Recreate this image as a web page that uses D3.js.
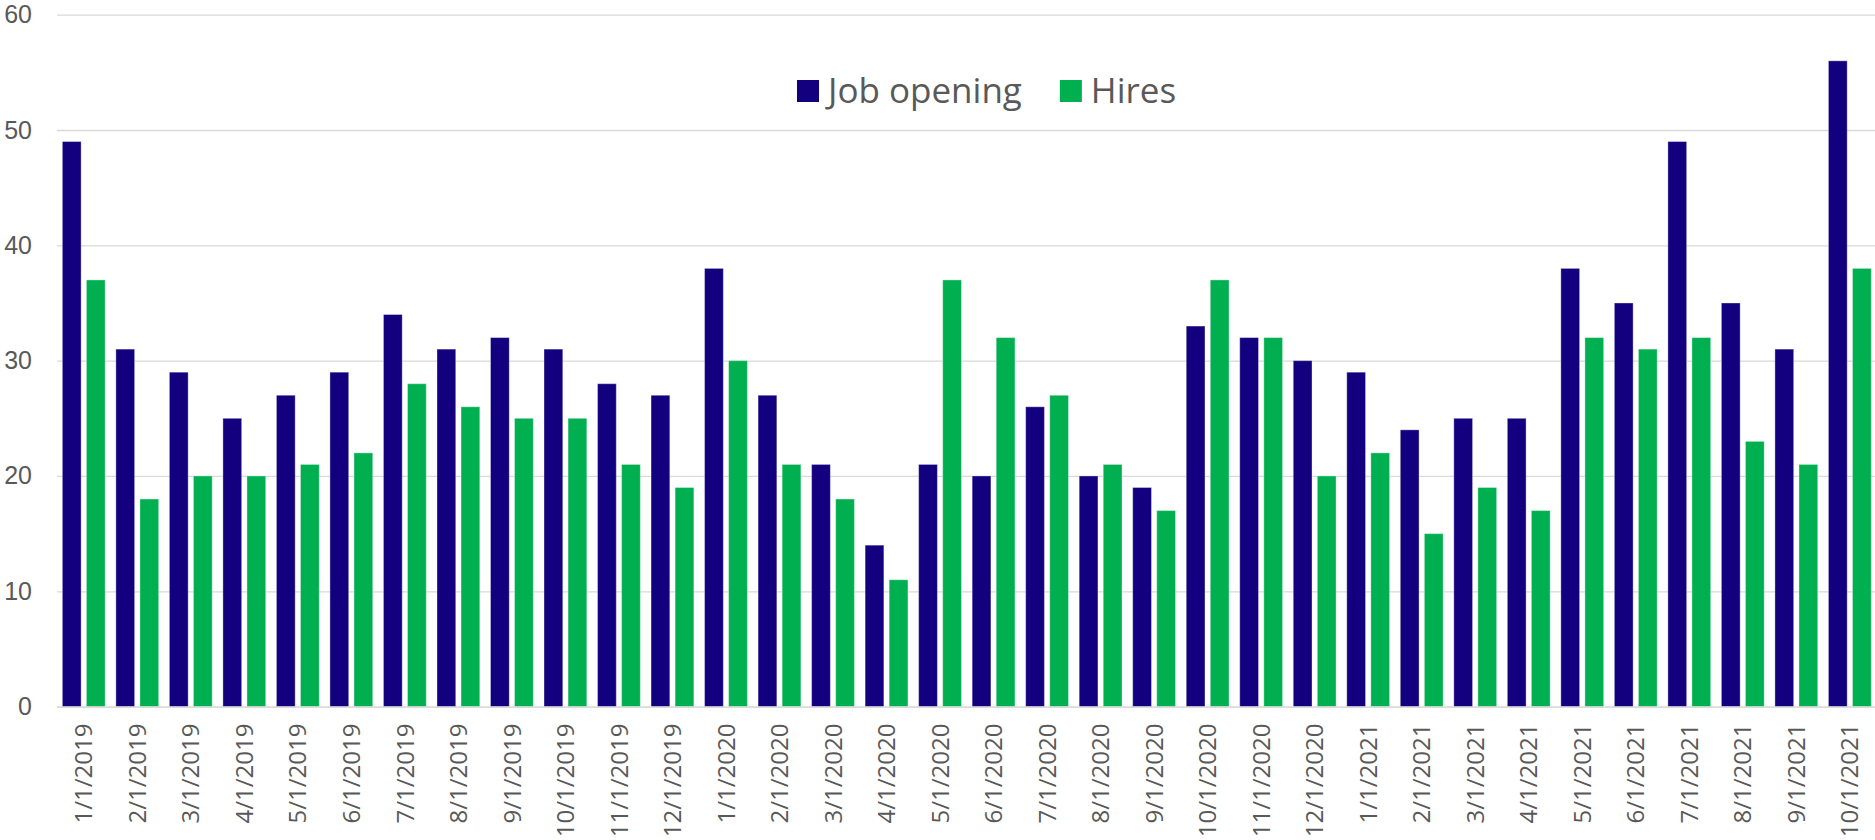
<!DOCTYPE html>
<html>
<head>
    <meta charset="utf-8">
    <script src="https://d3js.org/d3.v7.min.js"></script>
    <style type="text/css">
        body { margin: 0; background: #fff; }
        .tick text { fill: #595959; font-family: "Open Sans", sans-serif; font-size: 24px; }
        .yaxis .tick text { font-family: "Liberation Sans", sans-serif; font-size: 25px; }
        .grid line { stroke: #d9d9d9; stroke-width: 1.3; }
        .legend text { fill: #595959; font-family: "Open Sans", sans-serif; font-size: 35px; }
    </style>
</head>
<body>
    <div id="chart"></div>
    <script>
        // data
        const months = ["1/1/2019", "2/1/2019", "3/1/2019", "4/1/2019", "5/1/2019", "6/1/2019",
            "7/1/2019", "8/1/2019", "9/1/2019", "10/1/2019", "11/1/2019", "12/1/2019",
            "1/1/2020", "2/1/2020", "3/1/2020", "4/1/2020", "5/1/2020", "6/1/2020",
            "7/1/2020", "8/1/2020", "9/1/2020", "10/1/2020", "11/1/2020", "12/1/2020",
            "1/1/2021", "2/1/2021", "3/1/2021", "4/1/2021", "5/1/2021", "6/1/2021",
            "7/1/2021", "8/1/2021", "9/1/2021", "10/1/2021"];
        const jobOpening = [49, 31, 29, 25, 27, 29, 34, 31, 32, 31, 28, 27,
            38, 27, 21, 14, 21, 20, 26, 20, 19, 33, 32, 30,
            29, 24, 25, 25, 38, 35, 49, 35, 31, 56];
        const hires = [37, 18, 20, 20, 21, 22, 28, 26, 25, 25, 21, 19,
            30, 21, 18, 11, 37, 32, 27, 21, 17, 37, 32, 20,
            22, 15, 19, 17, 32, 31, 32, 23, 21, 38];
        const seriesNames = ["Job opening", "Hires"];
        const yTicks = [0, 10, 20, 30, 40, 50, 60];

        const W = 1875, H = 840;
        const margin = { top: 14.7, right: -1.6, bottom: 133.4, left: 57 };
        const width = W - margin.left - margin.right,
            height = H - margin.top - margin.bottom;

        const color = d3.scaleOrdinal().domain(seriesNames).range(["#12007f", "#00b050"]);

        const svg = d3.select("#chart").append("svg")
            .attr("width", W).attr("height", H)
            .append("g")
            .attr("transform", `translate(${margin.left},${margin.top})`);

        const x0 = d3.scaleBand().domain(months).range([0, width])
            .paddingInner(0.2).paddingOuter(0.1);
        const x1 = d3.scaleBand().domain(seriesNames).range([0, x0.bandwidth()])
            .paddingInner(0.22).paddingOuter(0);
        const y = d3.scaleLinear().domain([0, 60]).range([height, 0]);

        // gridlines
        svg.append("g")
            .attr("class", "grid")
            .call(d3.axisLeft(y).tickValues(yTicks).tickSize(-width).tickFormat(""))
            .call(g => g.select(".domain").remove());

        // y labels
        svg.append("g")
            .attr("class", "yaxis")
            .call(d3.axisLeft(y).tickValues(yTicks).tickSize(0).tickPadding(25))
            .call(g => g.select(".domain").remove());

        // bars
        const rows = months.map((m, i) => ({ month: m, values: [jobOpening[i], hires[i]] }));
        svg.append("g")
            .selectAll("g")
            .data(rows)
            .join("g")
            .attr("transform", d => `translate(${x0(d.month)},0)`)
            .selectAll("rect")
            .data(d => seriesNames.map((s, k) => ({ key: s, value: d.values[k] })))
            .join("rect")
            .attr("x", d => x1(d.key))
            .attr("y", d => y(d.value))
            .attr("width", x1.bandwidth())
            .attr("height", d => y(0) - y(d.value))
            .attr("fill", d => color(d.key))
            .attr("stroke", "#ffffff")
            .attr("stroke-opacity", 0.35)
            .attr("stroke-width", 1);

        // x axis
        svg.append("g")
            .attr("transform", `translate(0,${height})`)
            .call(d3.axisBottom(x0).tickSize(0))
            .call(g => g.select(".domain").attr("stroke", "#d9d9d9").attr("stroke-width", 1.3))
            .selectAll("text")
            .attr("transform", "rotate(-90)")
            .attr("text-anchor", "end")
            .attr("x", -17)
            .attr("y", 0)
            .attr("dy", "0.36em");

        // legend
        const legend = svg.append("g")
            .attr("class", "legend")
            .attr("transform", `translate(${797 - margin.left},${91 - margin.top})`);
        let lx = 0;
        seriesNames.forEach(s => {
            const item = legend.append("g").attr("transform", `translate(${lx},0)`);
            item.append("rect")
                .attr("x", 0).attr("y", -11)
                .attr("width", 22).attr("height", 22)
                .attr("fill", color(s));
            const t = item.append("text")
                .attr("x", 31).attr("y", 0)
                .attr("dy", "0.35em")
                .text(s);
            lx += 31 + t.node().getComputedTextLength() + 38;
        });
    </script>
</body>
</html>
